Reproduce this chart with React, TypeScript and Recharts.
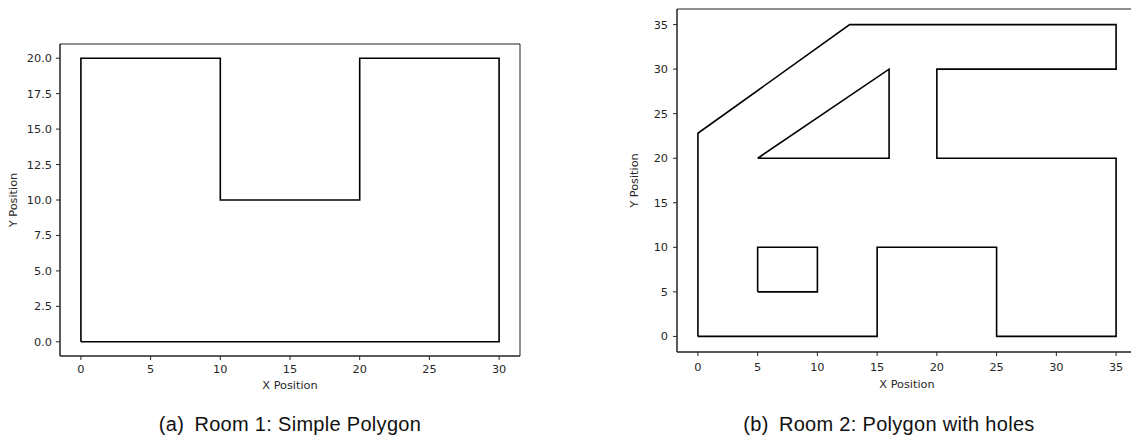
import React from 'react';
import { LineChart, Line, XAxis, YAxis, ReferenceArea } from 'recharts';

// Room 1: simple polygon outline
const room1Outline = [
  { x: 0, y: 0 }, { x: 30, y: 0 }, { x: 30, y: 20 }, { x: 20, y: 20 },
  { x: 20, y: 10 }, { x: 10, y: 10 }, { x: 10, y: 20 }, { x: 0, y: 20 }, { x: 0, y: 0 },
];

// Room 2: outer boundary and holes
const room2Outline = [
  { x: 0, y: 0 }, { x: 15, y: 0 }, { x: 15, y: 10 }, { x: 25, y: 10 }, { x: 25, y: 0 },
  { x: 35, y: 0 }, { x: 35, y: 20 }, { x: 20, y: 20 }, { x: 20, y: 30 }, { x: 35, y: 30 },
  { x: 35, y: 35 }, { x: 12.7, y: 35 }, { x: 0, y: 22.8 }, { x: 0, y: 0 },
];
const room2Triangle = [
  { x: 5, y: 20 }, { x: 16, y: 30 }, { x: 16, y: 20 }, { x: 5, y: 20 },
];
const room2Rect = [
  { x: 5, y: 5 }, { x: 10, y: 5 }, { x: 10, y: 10 }, { x: 5, y: 10 }, { x: 5, y: 5 },
];

const room1XTicks = [0, 5, 10, 15, 20, 25, 30];
const room1YTicks = [0, 2.5, 5, 7.5, 10, 12.5, 15, 17.5, 20];
const room2XTicks = [0, 5, 10, 15, 20, 25, 30, 35];
const room2YTicks = [0, 5, 10, 15, 20, 25, 30, 35];

const room1XDomain = [-1.5, 31.5];
const room1YDomain = [-1, 21];
const room2XDomain = [-1.75, 36.75];
const room2YDomain = [-1.75, 36.75];

const caption1 = '(a)\u2002Room 1: Simple Polygon';
const caption2 = '(b)\u2002Room 2: Polygon with holes';

const FONT = 'DejaVu Sans';
const TICK_FS = 11.3;
const TXT = '#262626';
const FRAME = '#222';

function XLabel(props: any, labelY: number, caption: string, captionY: number, capShift: number) {
  const vb = props.viewBox;
  const cx = vb.x + vb.width / 2;
  return (
    <g>
      <text x={cx} y={labelY} textAnchor="middle" fontFamily={FONT} fontSize={TICK_FS} fill={TXT}>
        X Position
      </text>
      <text x={cx + capShift} y={captionY} textAnchor="middle" fontFamily="Liberation Sans" fontSize={20} letterSpacing={0.3} fill="#111">
        {caption}
      </text>
    </g>
  );
}

function YLabel(props: any, labelX: number) {
  const vb = props.viewBox;
  const cy = vb.y + vb.height / 2;
  return (
    <text
      x={labelX}
      y={cy}
      textAnchor="middle"
      transform={`rotate(-90, ${labelX}, ${cy})`}
      fontFamily={FONT}
      fontSize={TICK_FS}
      fill={TXT}
    >
      Y Position
    </text>
  );
}

const tickStyle = { fontFamily: FONT, fontSize: TICK_FS, fill: TXT };

export default function App() {
  return (
    <div style={{ position: 'fixed', left: 0, top: 0, width: 1131, height: 438, overflow: 'hidden', background: '#fff' }}>
      <div style={{ position: 'absolute', left: 0, top: 0 }}>
        <LineChart width={560} height={438} margin={{ top: 44, right: 40, bottom: 0, left: 0 }}>
          <XAxis
            dataKey="x"
            type="number"
            domain={room1XDomain}
            allowDataOverflow
            ticks={room1XTicks}
            tick={tickStyle}
            tickSize={4}
            tickMargin={5}
            height={82}
            axisLine={{ stroke: FRAME, strokeWidth: 1 }}
            tickLine={{ stroke: FRAME }}
            label={{ content: (p: any) => XLabel(p, 389, caption1, 431, 0) }}
          />
          <YAxis
            type="number"
            domain={room1YDomain}
            allowDataOverflow
            ticks={room1YTicks}
            tickFormatter={(v: number) => v.toFixed(1)}
            tick={tickStyle}
            tickSize={4}
            tickMargin={4}
            width={60}
            axisLine={{ stroke: FRAME, strokeWidth: 1 }}
            tickLine={{ stroke: FRAME }}
            label={{ content: (p: any) => YLabel(p, 17) }}
          />
          <ReferenceArea x1={room1XDomain[0]} x2={room1XDomain[1]} y1={room1YDomain[0]} y2={room1YDomain[1]} fill="none" stroke={FRAME} strokeWidth={1} ifOverflow="visible" />
          <Line data={room1Outline} dataKey="y" stroke="#000" strokeWidth={1.6} dot={false} isAnimationActive={false} />
        </LineChart>
      </div>
      <div style={{ position: 'absolute', left: 617, top: 0 }}>
        <LineChart width={560} height={438} margin={{ top: 9, right: 40, bottom: 0, left: 0 }}>
          <XAxis
            dataKey="x"
            type="number"
            domain={room2XDomain}
            allowDataOverflow
            ticks={room2XTicks}
            tick={tickStyle}
            tickSize={4}
            tickMargin={7}
            height={86}
            axisLine={{ stroke: FRAME, strokeWidth: 1 }}
            tickLine={{ stroke: FRAME }}
            label={{ content: (p: any) => XLabel(p, 388, caption2, 431, -18) }}
          />
          <YAxis
            type="number"
            domain={room2YDomain}
            allowDataOverflow
            ticks={room2YTicks}
            tick={tickStyle}
            tickSize={4}
            tickMargin={5}
            width={60}
            axisLine={{ stroke: FRAME, strokeWidth: 1 }}
            tickLine={{ stroke: FRAME }}
            label={{ content: (p: any) => YLabel(p, 21) }}
          />
          <ReferenceArea x1={room2XDomain[0]} x2={room2XDomain[1]} y1={room2YDomain[0]} y2={room2YDomain[1]} fill="none" stroke={FRAME} strokeWidth={1} ifOverflow="visible" />
          <Line data={room2Outline} dataKey="y" stroke="#000" strokeWidth={1.6} dot={false} isAnimationActive={false} />
          <Line data={room2Triangle} dataKey="y" stroke="#000" strokeWidth={1.6} dot={false} isAnimationActive={false} />
          <Line data={room2Rect} dataKey="y" stroke="#000" strokeWidth={1.6} dot={false} isAnimationActive={false} />
        </LineChart>
      </div>
    </div>
  );
}
